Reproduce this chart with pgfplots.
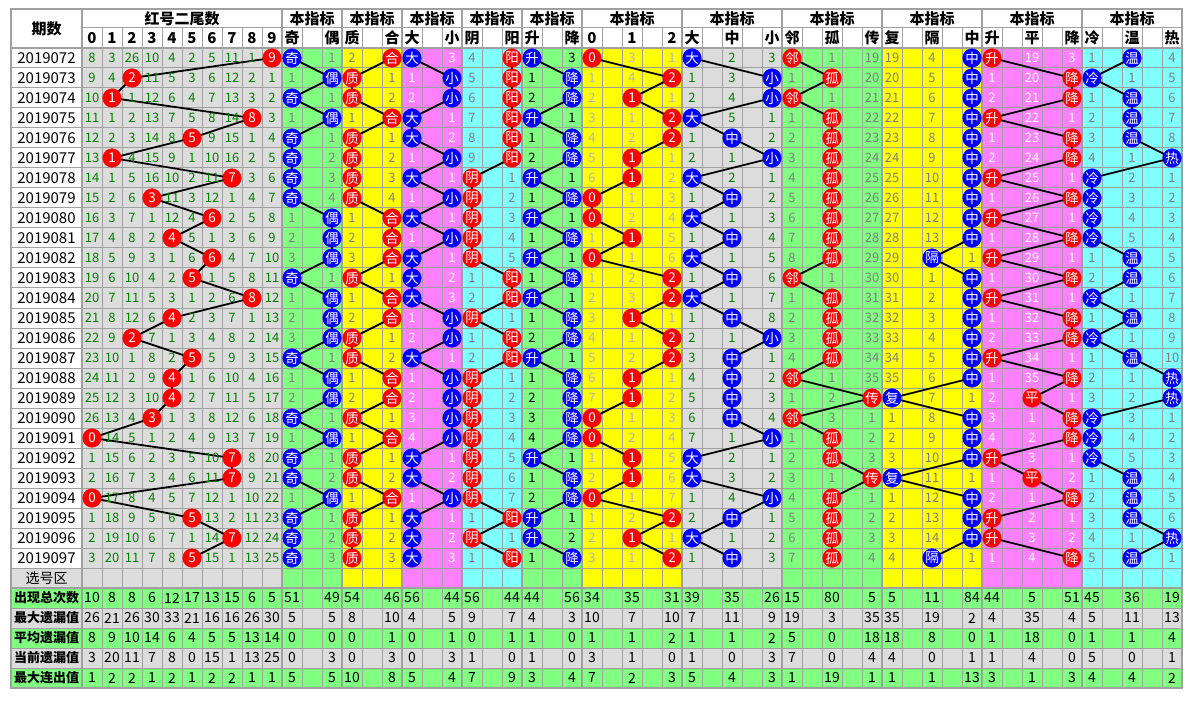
\documentclass[border=0pt]{standalone}
\usepackage{pgfplots}
\pgfplotsset{compat=1.18}
\usepackage{pgfplotstable}
\usepackage{fontspec}
\setmainfont{Noto Sans CJK SC}
\definecolor{cgreen}{HTML}{80FF80}
\definecolor{cyellow}{HTML}{FFFF00}
\definecolor{cpink}{HTML}{FF80FF}
\definecolor{ccyan}{HTML}{80FFFF}
\definecolor{cgray}{HTML}{DCDCDC}
\definecolor{gridc}{HTML}{A0A0A0}
\definecolor{dgreen}{HTML}{008000}
\definecolor{tgray}{HTML}{808080}
\definecolor{tlight}{HTML}{B4B4B4}
\definecolor{mred}{HTML}{FF0000}
\definecolor{mblue}{HTML}{0000FF}

% hit markers: row, period, digit, then position/label of each indicator group
\pgfplotstableread{
r p d jo jl zh zl dx dl yy yl sj sl m3 ml dz dzl lg lgl fg fgl sp spl lw lwl
0 2019072 9 0 奇 2 合 0 大 2 阳 0 升 0 0 0 大 0 邻 4 中 0 升 2 温
1 2019073 2 2 偶 0 质 2 小 2 阳 2 降 4 2 4 小 2 孤 4 中 4 降 0 冷
2 2019074 1 0 奇 0 质 2 小 2 阳 2 降 2 1 4 小 0 邻 4 中 4 降 2 温
3 2019075 8 2 偶 2 合 0 大 2 阳 0 升 4 2 0 大 2 孤 4 中 0 升 2 温
4 2019076 5 0 奇 0 质 0 大 2 阳 2 降 4 2 2 中 2 孤 4 中 4 降 2 温
5 2019077 1 0 奇 0 质 2 小 2 阳 2 降 2 1 4 小 2 孤 4 中 4 降 4 热
6 2019078 7 0 奇 0 质 0 大 0 阴 0 升 2 1 0 大 2 孤 4 中 0 升 0 冷
7 2019079 3 0 奇 0 质 2 小 0 阴 2 降 0 0 2 中 2 孤 4 中 4 降 0 冷
8 2019080 6 2 偶 2 合 0 大 0 阴 0 升 0 0 0 大 2 孤 4 中 0 升 0 冷
9 2019081 4 2 偶 2 合 2 小 0 阴 2 降 2 1 2 中 2 孤 4 中 4 降 0 冷
10 2019082 6 2 偶 2 合 0 大 0 阴 0 升 0 0 0 大 2 孤 2 隔 0 升 2 温
11 2019083 5 0 奇 0 质 0 大 2 阳 2 降 4 2 2 中 0 邻 4 中 4 降 2 温
12 2019084 8 2 偶 2 合 0 大 2 阳 0 升 4 2 0 大 2 孤 4 中 0 升 0 冷
13 2019085 4 2 偶 2 合 2 小 0 阴 2 降 2 1 2 中 2 孤 4 中 4 降 2 温
14 2019086 2 2 偶 0 质 2 小 2 阳 2 降 4 2 4 小 2 孤 4 中 4 降 0 冷
15 2019087 5 0 奇 0 质 0 大 2 阳 0 升 4 2 2 中 2 孤 4 中 0 升 2 温
16 2019088 4 2 偶 2 合 2 小 0 阴 2 降 2 1 2 中 0 邻 4 中 4 降 4 热
17 2019089 4 2 偶 2 合 2 小 0 阴 2 降 2 1 2 中 4 传 0 复 2 平 4 热
18 2019090 3 0 奇 0 质 2 小 0 阴 2 降 0 0 2 中 0 邻 4 中 4 降 0 冷
19 2019091 0 2 偶 2 合 2 小 0 阴 2 降 0 0 4 小 2 孤 4 中 4 降 0 冷
20 2019092 7 0 奇 0 质 0 大 0 阴 0 升 2 1 0 大 2 孤 4 中 0 升 0 冷
21 2019093 7 0 奇 0 质 0 大 0 阴 2 降 2 1 0 大 4 传 0 复 2 平 2 温
22 2019094 0 2 偶 2 合 2 小 0 阴 2 降 0 0 4 小 2 孤 4 中 4 降 2 温
23 2019095 5 0 奇 0 质 0 大 2 阳 0 升 4 2 2 中 2 孤 4 中 0 升 2 温
24 2019096 7 0 奇 0 质 0 大 0 阴 0 升 2 1 0 大 2 孤 4 中 0 升 4 热
25 2019097 5 0 奇 0 质 0 大 2 阳 2 降 4 2 2 中 2 孤 2 隔 4 降 2 温
}\marks

% omission values per table column (k = column index, {} = hit cell)
\pgfplotstableread{
r k0 k1 k2 k3 k4 k5 k6 k7 k8 k9 k10 k12 k13 k15 k16 k18 k19 k21 k22 k24 k25 k27 k29 k30 k32 k34 k35 k37 k39 k40 k42 k44 k45 k47 k49 k50 k52 k54
0  8 3 26 10 4 2 5 11 1 {}  {} 1  2 {}  {} 3  4 {}  {} 3  {} 3 1  {} 2 3  {} 1 19  19 4 {}  {} 19 3  1 {} 4
1  9 4 {} 11 5 3 6 12 2 1  1 {}  {} 1  1 {}  5 {}  1 {}  1 4 {}  1 3 {}  1 {} 20  20 5 {}  1 20 {}  {} 1 5
2  10 {} 1 12 6 4 7 13 3 2  {} 1  {} 2  2 {}  6 {}  2 {}  2 {} 1  2 4 {}  {} 1 21  21 6 {}  2 21 {}  1 {} 6
3  11 1 2 13 7 5 8 14 {} 3  1 {}  1 {}  {} 1  7 {}  {} 1  3 1 {}  {} 5 1  1 {} 22  22 7 {}  {} 22 1  2 {} 7
4  12 2 3 14 8 {} 9 15 1 4  {} 1  {} 1  {} 2  8 {}  1 {}  4 2 {}  1 {} 2  2 {} 23  23 8 {}  1 23 {}  3 {} 8
5  13 {} 4 15 9 1 10 16 2 5  {} 2  {} 2  1 {}  9 {}  2 {}  5 {} 1  2 1 {}  3 {} 24  24 9 {}  2 24 {}  4 1 {}
6  14 1 5 16 10 2 11 {} 3 6  {} 3  {} 3  {} 1  {} 1  {} 1  6 {} 2  {} 2 1  4 {} 25  25 10 {}  {} 25 1  {} 2 1
7  15 2 6 {} 11 3 12 1 4 7  {} 4  {} 4  1 {}  {} 2  1 {}  {} 1 3  1 {} 2  5 {} 26  26 11 {}  1 26 {}  {} 3 2
8  16 3 7 1 12 4 {} 2 5 8  1 {}  1 {}  {} 1  {} 3  {} 1  {} 2 4  {} 1 3  6 {} 27  27 12 {}  {} 27 1  {} 4 3
9  17 4 8 2 {} 5 1 3 6 9  2 {}  2 {}  1 {}  {} 4  1 {}  1 {} 5  1 {} 4  7 {} 28  28 13 {}  1 28 {}  {} 5 4
10 18 5 9 3 1 6 {} 4 7 10  3 {}  3 {}  {} 1  {} 5  {} 1  {} 1 6  {} 1 5  8 {} 29  29 {} 1  {} 29 1  1 {} 5
11 19 6 10 4 2 {} 1 5 8 11  {} 1  {} 1  {} 2  1 {}  1 {}  1 2 {}  1 {} 6  {} 1 30  30 1 {}  1 30 {}  2 {} 6
12 20 7 11 5 3 1 2 6 {} 12  1 {}  1 {}  {} 3  2 {}  {} 1  2 3 {}  {} 1 7  1 {} 31  31 2 {}  {} 31 1  {} 1 7
13 21 8 12 6 {} 2 3 7 1 13  2 {}  2 {}  1 {}  {} 1  1 {}  3 {} 1  1 {} 8  2 {} 32  32 3 {}  1 32 {}  1 {} 8
14 22 9 {} 7 1 3 4 8 2 14  3 {}  {} 1  2 {}  1 {}  2 {}  4 1 {}  2 1 {}  3 {} 33  33 4 {}  2 33 {}  {} 1 9
15 23 10 1 8 2 {} 5 9 3 15  {} 1  {} 2  {} 1  2 {}  {} 1  5 2 {}  3 {} 1  4 {} 34  34 5 {}  {} 34 1  1 {} 10
16 24 11 2 9 {} 1 6 10 4 16  1 {}  1 {}  1 {}  {} 1  1 {}  6 {} 1  4 {} 2  {} 1 35  35 6 {}  1 35 {}  2 1 {}
17 25 12 3 10 {} 2 7 11 5 17  2 {}  2 {}  2 {}  {} 2  2 {}  7 {} 2  5 {} 3  1 2 {}  {} 7 1  2 {} 1  3 2 {}
18 26 13 4 {} 1 3 8 12 6 18  {} 1  {} 1  3 {}  {} 3  3 {}  {} 1 3  6 {} 4  {} 3 1  1 8 {}  3 1 {}  {} 3 1
19 {} 14 5 1 2 4 9 13 7 19  1 {}  1 {}  4 {}  {} 4  4 {}  {} 2 4  7 1 {}  1 {} 2  2 9 {}  4 2 {}  {} 4 2
20 1 15 6 2 3 5 10 {} 8 20  {} 1  {} 1  {} 1  {} 5  {} 1  1 {} 5  {} 2 1  2 {} 3  3 10 {}  {} 3 1  {} 5 3
21 2 16 7 3 4 6 11 {} 9 21  {} 2  {} 2  {} 2  {} 6  1 {}  2 {} 6  {} 3 2  3 1 {}  {} 11 1  1 {} 2  1 {} 4
22 {} 17 8 4 5 7 12 1 10 22  1 {}  1 {}  1 {}  {} 7  2 {}  {} 1 7  1 4 {}  4 {} 1  1 12 {}  2 1 {}  2 {} 5
23 1 18 9 5 6 {} 13 2 11 23  {} 1  {} 1  {} 1  1 {}  {} 1  1 2 {}  2 {} 1  5 {} 2  2 13 {}  {} 2 1  3 {} 6
24 2 19 10 6 7 1 14 {} 12 24  {} 2  {} 2  {} 2  {} 1  {} 2  2 {} 1  {} 1 2  6 {} 3  3 14 {}  {} 3 2  4 1 {}
25 3 20 11 7 8 {} 15 1 13 25  {} 3  {} 3  {} 3  1 {}  1 {}  3 1 {}  1 {} 3  7 {} 4  4 {} 1  1 4 {}  5 {} 1
}\miss

% statistics rows
\pgfplotstableread{
s k0 k1 k2 k3 k4 k5 k6 k7 k8 k9 k10 k12 k13 k15 k16 k18 k19 k21 k22 k24 k25 k27 k29 k30 k32 k34 k35 k37 k39 k40 k42 k44 k45 k47 k49 k50 k52 k54
0 10 8 8 6 12 17 13 15 6 5 51 49 54 46 56 44 56 44 44 56 34 35 31 39 35 26 15 80 5 5 11 84 44 5 51 45 36 19
1 26 21 26 30 33 21 16 16 26 30 5 5 8 10 4 5 9 7 4 3 10 7 10 7 11 9 19 3 35 35 19 2 4 35 4 5 11 13
2 8 9 10 14 6 4 5 5 13 14 0 0 0 1 0 1 0 1 1 0 1 1 2 1 1 2 5 0 18 18 8 0 1 18 0 1 1 4
3 3 20 11 7 8 0 15 1 13 25 0 3 0 3 0 3 1 0 1 0 3 1 0 1 0 3 7 0 4 4 0 1 1 4 0 5 0 1
4 1 2 2 1 2 1 2 2 1 1 5 5 10 8 5 4 7 9 3 4 7 2 3 5 4 3 1 19 1 1 1 13 3 1 3 4 4 2
}\stats

\pgfplotsset{
  numtxt/.style={draw=none, mark=none, forget plot,
    nodes near coords={\pgfplotspointmeta}, point meta=explicit symbolic,
    every node near coord/.append style={anchor=center, inner sep=0pt, text=#1,
      font=\fontsize{13}{13}\selectfont}},
  mk/.style={black, line width=1.8pt, mark=*, mark size=9.3pt,
    mark options={fill=#1, draw=#1, line width=0.4pt}, forget plot,
    nodes near coords={\pgfplotspointmeta}, point meta=explicit symbolic,
    every node near coord/.append style={anchor=center, inner sep=0pt, text=white,
      font=\fontsize{13.5}{13.5}\selectfont}},
}

\begin{document}
\begin{tikzpicture}
\begin{axis}[x=1pt, y=1pt, xmin=0, xmax=1191, ymin=0, ymax=703, y dir=reverse,
  hide axis, clip=false]
% backgrounds
\fill[white] (axis cs:0,0) rectangle (axis cs:1191,703);
\fill[cgray] (axis cs:82,48) rectangle (axis cs:282,588);
\fill[cgreen] (axis cs:282,48) rectangle (axis cs:342,588);
\fill[cyellow] (axis cs:342,48) rectangle (axis cs:402,588);
\fill[cpink] (axis cs:402,48) rectangle (axis cs:462,588);
\fill[ccyan] (axis cs:462,48) rectangle (axis cs:522,588);
\fill[cgreen] (axis cs:522,48) rectangle (axis cs:582,588);
\fill[cyellow] (axis cs:582,48) rectangle (axis cs:682,588);
\fill[cgray] (axis cs:682,48) rectangle (axis cs:782,588);
\fill[cgreen] (axis cs:782,48) rectangle (axis cs:882,588);
\fill[cyellow] (axis cs:882,48) rectangle (axis cs:982,588);
\fill[cpink] (axis cs:982,48) rectangle (axis cs:1082,588);
\fill[ccyan] (axis cs:1082,48) rectangle (axis cs:1182,588);
\fill[cgray] (axis cs:11,568) rectangle (axis cs:82,588);
\fill[cgreen] (axis cs:11,588) rectangle (axis cs:1182,608);
\fill[cgray] (axis cs:11,608) rectangle (axis cs:1182,628);
\fill[cgreen] (axis cs:11,628) rectangle (axis cs:1182,648);
\fill[cgray] (axis cs:11,648) rectangle (axis cs:1182,668);
\fill[cgreen] (axis cs:11,668) rectangle (axis cs:1182,688);
% grid
\pgfplotsextra{
  \foreach \yy in {48,68,...,588,608,628,648,668} {\draw[gridc, line width=1pt] (axis cs:11,\yy) -- (axis cs:1182,\yy);}
  \draw[gridc, line width=1pt] (axis cs:82,28) -- (axis cs:1182,28);
  \foreach \xx in {102,122,...,1162} {\draw[gridc, line width=1pt] (axis cs:\xx,28) -- (axis cs:\xx,688);}
  \foreach \xx in {82,282,342,402,462,522,582,682,782,882,982,1082} {\draw[gridc, line width=2pt] (axis cs:\xx,9) -- (axis cs:\xx,688);}
  \draw[gridc, line width=2pt] (axis cs:11,48) -- (axis cs:1182,48);
  \draw[gridc, line width=2pt] (axis cs:11,588) -- (axis cs:1182,588);
  \draw[gridc, line width=2.5pt] (axis cs:11,9) rectangle (axis cs:1182,688);
}
% period labels
\addplot[numtxt=black, every node near coord/.append style={font=\fontsize{15}{15}\selectfont}]
  table[x expr=46.5, y expr=58+20*\thisrow{r}, meta=p] {\marks};
% omission numbers
\pgfplotsinvokeforeach{0,1,2,3,4,5,6,7,8,9,30,32,34}{
  \addplot[numtxt=dgreen] table[x expr=92+20*#1, y expr=58+20*\thisrow{r}, meta=k#1] {\miss};}
\pgfplotsinvokeforeach{10,12,13,15,19,21,35,37,39,40,42,44,50,52,54}{
  \addplot[numtxt=tgray] table[x expr=92+20*#1, y expr=58+20*\thisrow{r}, meta=k#1] {\miss};}
\pgfplotsinvokeforeach{16,18,45,47,49}{
  \addplot[numtxt=white] table[x expr=92+20*#1, y expr=58+20*\thisrow{r}, meta=k#1] {\miss};}
\pgfplotsinvokeforeach{22,24}{
  \addplot[numtxt=black] table[x expr=92+20*#1, y expr=58+20*\thisrow{r}, meta=k#1] {\miss};}
\pgfplotsinvokeforeach{25,27,29}{
  \addplot[numtxt=tlight] table[x expr=92+20*#1, y expr=58+20*\thisrow{r}, meta=k#1] {\miss};}
% statistics
\pgfplotsinvokeforeach{0,1,2,3,4,5,6,7,8,9,10,12,13,15,16,18,19,21,22,24,25,27,29,30,32,34,35,37,39,40,42,44,45,47,49,50,52,54}{
  \addplot[numtxt=black, every node near coord/.append style={font=\fontsize{14}{14}\selectfont}]
    table[x expr=92+20*#1, y expr=598+20*\thisrow{s}, meta=k#1] {\stats};}
% hit markers and trend lines
\addplot[mk=mred] table[x expr=92+20*\thisrow{d}, y expr=58+20*\thisrow{r}, meta=d] {\marks};
\addplot[mk=mblue] table[x expr=292+20*\thisrow{jo}, y expr=58+20*\thisrow{r}, meta=jl] {\marks};
\addplot[mk=mred] table[x expr=352+20*\thisrow{zh}, y expr=58+20*\thisrow{r}, meta=zl] {\marks};
\addplot[mk=mblue] table[x expr=412+20*\thisrow{dx}, y expr=58+20*\thisrow{r}, meta=dl] {\marks};
\addplot[mk=mred] table[x expr=472+20*\thisrow{yy}, y expr=58+20*\thisrow{r}, meta=yl] {\marks};
\addplot[mk=mblue] table[x expr=532+20*\thisrow{sj}, y expr=58+20*\thisrow{r}, meta=sl] {\marks};
\addplot[mk=mred] table[x expr=592+20*\thisrow{m3}, y expr=58+20*\thisrow{r}, meta=ml] {\marks};
\addplot[mk=mblue] table[x expr=692+20*\thisrow{dz}, y expr=58+20*\thisrow{r}, meta=dzl] {\marks};
\addplot[mk=mred] table[x expr=792+20*\thisrow{lg}, y expr=58+20*\thisrow{r}, meta=lgl] {\marks};
\addplot[mk=mblue] table[x expr=892+20*\thisrow{fg}, y expr=58+20*\thisrow{r}, meta=fgl] {\marks};
\addplot[mk=mred] table[x expr=992+20*\thisrow{sp}, y expr=58+20*\thisrow{r}, meta=spl] {\marks};
\addplot[mk=mblue] table[x expr=1092+20*\thisrow{lw}, y expr=58+20*\thisrow{r}, meta=lwl] {\marks};
% header
\pgfplotsextra{
  \begin{scope}[font=\bfseries\fontsize{15}{15}\selectfont]
  \node at (axis cs:46.5,28.5) {期数};
  \node at (axis cs:182,18.5) {红号二尾数};
  \foreach \xx in {312,372,432,492,552,632,732,832,932,1032,1132} {\node at (axis cs:\xx,18.5) {本指标};}
  \foreach \k in {0,...,9} {\pgfmathsetmacro{\xc}{92+20*\k}\node at (axis cs:\xc,38) {\k};}
  \foreach \k/\t in {10/奇,12/偶,13/质,15/合,16/大,18/小,19/阴,21/阳,22/升,24/降,25/0,27/1,29/2,30/大,32/中,34/小,35/邻,37/孤,39/传,40/复,42/隔,44/中,45/升,47/平,49/降,50/冷,52/温,54/热}
    {\pgfmathsetmacro{\xc}{92+20*\k}\node at (axis cs:\xc,38) {\t};}
  \end{scope}
  \node[font=\fontsize{14}{14}\selectfont] at (axis cs:46.5,578) {选号区};
  \begin{scope}[font=\bfseries\fontsize{13}{13}\selectfont]
  \node at (axis cs:46.5,598) {出现总次数};
  \node at (axis cs:46.5,618) {最大遗漏值};
  \node at (axis cs:46.5,638) {平均遗漏值};
  \node at (axis cs:46.5,658) {当前遗漏值};
  \node at (axis cs:46.5,678) {最大连出值};
  \end{scope}
}
\end{axis}
\end{tikzpicture}
\end{document}
